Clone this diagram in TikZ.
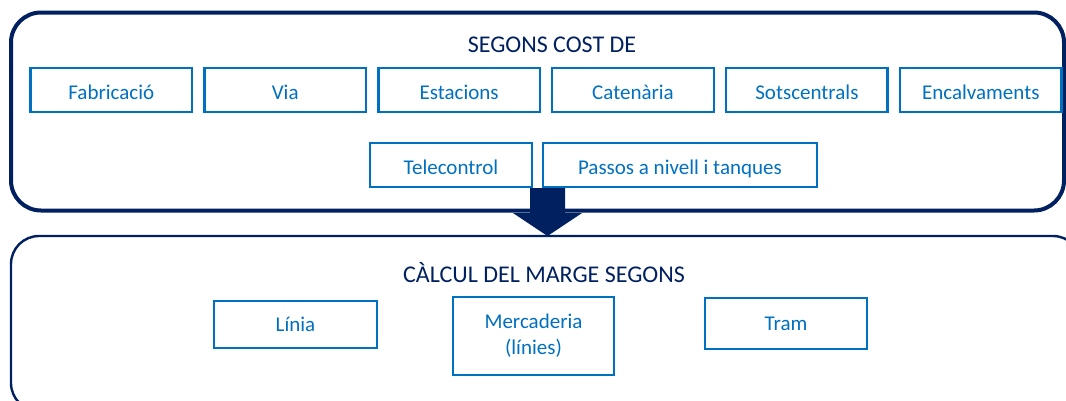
\documentclass[tikz,border=0pt]{standalone}
\usepackage{fontspec}
\setmainfont{Carlito}
\usepackage{xcolor}
\usepackage{tikz}
\usetikzlibrary{positioning, calc}
\definecolor{navy}{HTML}{002060}
\definecolor{boxblue}{HTML}{0070C0}

\begin{document}
\begin{tikzpicture}[
    x=1pt, y=-1pt,
    node distance=10pt,
    frame/.style={rectangle, draw=navy, rounded corners=30pt, inner sep=0pt},
    item/.style={rectangle, draw=boxblue, line width=2.4pt, text=boxblue, minimum width=161.5pt, minimum height=44.5pt, inner sep=0pt, align=center, text height=19pt, text depth=0pt, font=\fontsize{21}{26}\selectfont},
    head/.style={text=navy, font=\fontsize{24}{28}\selectfont},
    blockarrow/.style={fill=navy, draw=none}
]
    \clip (0,0) rectangle (1066,400);

    % Outer frames
    \node [frame, line width=4pt, minimum width=1053pt, minimum height=198pt] (costframe) at (537.5,111.5) {};
    \node [frame, line width=2.4pt, minimum width=1070pt, minimum height=175pt, rounded corners=28pt] (margeframe) at (546,323.5) {};

    % Titles
    \node [head] (costtitle) at (552,45) {SEGONS COST DE};
    \node [head] (margetitle) at (544,273) {CÀLCUL DEL MARGE SEGONS};

    % Cost items
    \node [item] (fab) at (111.3,90) {Fabricació};
    \node [item, right=of fab] (via) {Via};
    \node [item, right=of via] (est) {Estacions};
    \node [item, right=of est] (cat) {Catenària};
    \node [item, right=of cat] (sots) {Sotscentrals};
    \node [item, right=of sots] (enc) {Encalvaments};
    \node [item, minimum height=43.5pt] (tele) at (451,165) {Telecontrol};
    \node [item, right=9pt of tele, minimum width=273.6pt, minimum height=43.5pt] (pas) {Passos a nivell i tanques};

    % Margin items
    \node [item, minimum width=162.5pt, minimum height=46.5pt, text height=14pt] (linia) at (295.5,324.5) {Línia};
    \node [item, minimum width=161pt, minimum height=77.5pt, text height=, text depth=] (merc) at (533.5,336) {Mercaderia\\(línies)};
    \node [item, minimum height=50.5pt, text height=14pt] (tram) at (786,323.5) {Tram};

    % Block arrow between frames
    \coordinate (arrtop) at (547.5,188);
    \coordinate (arrtip) at (547.5,236);
    \fill [blockarrow] ($(arrtop)+(-17.5,0)$) -- ($(arrtop)+(17.5,0)$) -- ($(arrtop)+(17.5,25)$)
        -- ($(arrtop)+(34.5,25)$) -- (arrtip) -- ($(arrtop)+(-34.5,25)$) -- ($(arrtop)+(-17.5,25)$) -- cycle;

\end{tikzpicture}
\end{document}
